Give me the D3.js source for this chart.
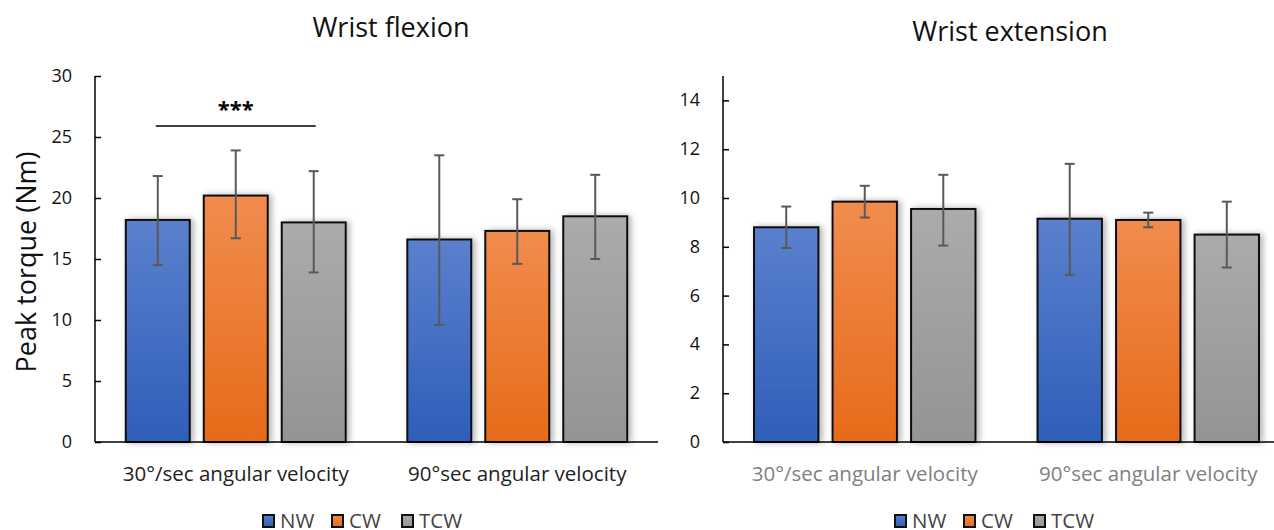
<!DOCTYPE html>
<html>
<head>
<meta charset="utf-8">
<script src="https://cdn.jsdelivr.net/npm/d3@7"></script>
<style>
  body { margin: 0; background: #fff; }
  svg { display: block; font-family: "Open Sans", "Noto Sans", sans-serif; }
</style>
</head>
<body>
<svg id="chart" width="1274" height="530"></svg>
<script>
// data
const groups = ['30°/sec angular velocity', '90°sec angular velocity'];
const series = ['NW', 'CW', 'TCW'];

// wrist flexion: mean and error bar ends, per group, per series
const flexMean = [[18.2, 20.2, 18.0], [16.6, 17.3, 18.5]];
const flexLow  = [[14.5, 16.7, 13.9], [9.6, 14.6, 15.0]];
const flexHigh = [[21.8, 23.9, 22.2], [23.5, 19.9, 21.9]];
const flexTicks = [0, 5, 10, 15, 20, 25, 30];

// wrist extension
const extMean = [[8.8, 9.85, 9.55], [9.15, 9.1, 8.5]];
const extLow  = [[7.95, 9.2, 8.05], [6.85, 8.8, 7.15]];
const extHigh = [[9.65, 10.5, 10.95], [11.4, 9.4, 9.85]];
const extTicks = [0, 2, 4, 6, 8, 10, 12, 14];

const sigLevel = 25.9; // *** bracket height on flexion chart

const colors = {
  NW:  ['#5b80cd', '#2e5eba'],
  CW:  ['#f18c4e', '#e66b19'],
  TCW: ['#ababab', '#949494']
};

const svg = d3.select('#chart');
const defs = svg.append('defs');

series.forEach((s) => {
  const g = defs.append('linearGradient')
    .attr('id', 'grad-' + s)
    .attr('x1', 0).attr('y1', 0).attr('x2', 0).attr('y2', 1);
  g.append('stop').attr('offset', '0%').attr('stop-color', colors[s][0]);
  g.append('stop').attr('offset', '100%').attr('stop-color', colors[s][1]);
});

const shadow = defs.append('filter').attr('id', 'shadow')
  .attr('x', '-20%').attr('y', '-10%').attr('width', '150%').attr('height', '120%');
shadow.append('feDropShadow')
  .attr('dx', 3).attr('dy', 0).attr('stdDeviation', 3)
  .attr('flood-color', '#000').attr('flood-opacity', 0.3);

function drawChart(opt) {
  const g = svg.append('g');

  const x0 = d3.scaleBand().domain(groups).range(opt.xRange);
  const x1 = d3.scaleBand().domain(series)
    .range([0, x0.bandwidth()])
    .paddingInner(0.18)
    .paddingOuter(0.395);
  const y = d3.scaleLinear().domain(opt.yDomain).range([442, 76]);

  // title
  g.append('text')
    .attr('x', opt.titleX).attr('y', opt.titleY)
    .attr('text-anchor', 'middle')
    .attr('font-size', 27)
    .attr('fill', '#111')
    .text(opt.title);

  // y axis
  const yAxis = g.append('g')
    .attr('transform', `translate(${opt.xRange[0]},0)`)
    .call(d3.axisRight(y).tickValues(opt.ticks).tickSize(6).tickFormat(''));
  yAxis.select('.domain').attr('d', `M0,${y(opt.yDomain[1])}V${y(0)}`)
    .attr('stroke', '#000').attr('stroke-width', 1.5);
  yAxis.selectAll('.tick line').attr('stroke', '#000').attr('stroke-width', 1.5);

  g.selectAll('.ylab')
    .data(opt.ticks)
    .enter().append('text')
    .attr('x', opt.xRange[0] - 23)
    .attr('y', (d) => y(d) + 6)
    .attr('text-anchor', 'end')
    .attr('font-size', 18)
    .attr('fill', '#111')
    .text((d) => d);

  // bars
  const rows = [];
  groups.forEach((grp, gi) => {
    series.forEach((s, si) => {
      rows.push({ grp: grp, s: s, v: opt.mean[gi][si], lo: opt.low[gi][si], hi: opt.high[gi][si] });
    });
  });

  g.selectAll('.bar')
    .data(rows)
    .enter().append('rect')
    .attr('x', (d) => x0(d.grp) + x1(d.s))
    .attr('y', (d) => y(d.v))
    .attr('width', x1.bandwidth())
    .attr('height', (d) => y(0) - y(d.v))
    .attr('fill', (d) => 'url(#grad-' + d.s + ')')
    .attr('stroke', '#111')
    .attr('stroke-width', 2)
    .attr('filter', 'url(#shadow)');

  // error bars
  const cx = (d) => x0(d.grp) + x1(d.s) + x1.bandwidth() / 2;
  const err = g.selectAll('.err').data(rows).enter().append('g')
    .attr('stroke', '#595959').attr('stroke-width', 2);
  err.append('line')
    .attr('x1', cx).attr('x2', cx)
    .attr('y1', (d) => y(d.lo)).attr('y2', (d) => y(d.hi));
  err.append('line')
    .attr('x1', (d) => cx(d) - 5).attr('x2', (d) => cx(d) + 5)
    .attr('y1', (d) => y(d.hi)).attr('y2', (d) => y(d.hi));
  err.append('line')
    .attr('x1', (d) => cx(d) - 5).attr('x2', (d) => cx(d) + 5)
    .attr('y1', (d) => y(d.lo)).attr('y2', (d) => y(d.lo));

  // x axis
  g.append('line')
    .attr('x1', opt.xRange[0]).attr('x2', opt.xAxisEnd)
    .attr('y1', y(0)).attr('y2', y(0))
    .attr('stroke', '#000').attr('stroke-width', 1.5);

  g.selectAll('.xlab')
    .data(groups)
    .enter().append('text')
    .attr('x', (d) => x0(d) + x0.bandwidth() / 2)
    .attr('y', 481)
    .attr('text-anchor', 'middle')
    .attr('font-size', 20.5)
    .attr('fill', opt.xLabelColor)
    .text((d) => d);

  // legend
  const leg = g.append('g').attr('transform', `translate(${opt.legendX},0)`);
  const legX = [0, 69, 139];
  series.forEach((s, i) => {
    leg.append('rect')
      .attr('x', legX[i] + 1).attr('y', 515)
      .attr('width', 11).attr('height', 12)
      .attr('fill', 'url(#grad-' + s + ')')
      .attr('stroke', '#111').attr('stroke-width', 2);
    leg.append('text')
      .attr('x', legX[i] + 18).attr('y', 528)
      .attr('font-size', 20.5)
      .attr('fill', '#444')
      .text(s);
  });

  return { x0: x0, x1: x1, y: y, g: g };
}

const left = drawChart({
  title: 'Wrist flexion', titleX: 391, titleY: 37,
  xRange: [95, 658], xAxisEnd: 658,
  yDomain: [0, 30], ticks: flexTicks,
  mean: flexMean, low: flexLow, high: flexHigh,
  xLabelColor: '#222', legendX: 262
});

const right = drawChart({
  title: 'Wrist extension', titleX: 1010, titleY: 41,
  xRange: [723, 1290], xAxisEnd: 1290,
  yDomain: [0, 15], ticks: extTicks,
  mean: extMean, low: extLow, high: extHigh,
  xLabelColor: '#808080', legendX: 894
});

// significance bracket
const sx1 = left.x0(groups[0]) + left.x1('NW') + left.x1.bandwidth() / 2;
const sx2 = left.x0(groups[0]) + left.x1('TCW') + left.x1.bandwidth() / 2;
left.g.append('line')
  .attr('x1', sx1 - 2).attr('x2', sx2 + 2)
  .attr('y1', left.y(sigLevel)).attr('y2', left.y(sigLevel))
  .attr('stroke', '#000').attr('stroke-width', 1.5);
left.g.append('text')
  .attr('x', (sx1 + sx2) / 2).attr('y', left.y(sigLevel) - 9)
  .attr('text-anchor', 'middle')
  .attr('font-size', 22).attr('font-weight', 'bold')
  .text('***');

// y axis title
svg.append('text')
  .attr('transform', 'translate(36,262) rotate(-90)')
  .attr('text-anchor', 'middle')
  .attr('font-size', 27)
  .attr('fill', '#111')
  .text('Peak torque (Nm)');
</script>
</body>
</html>
